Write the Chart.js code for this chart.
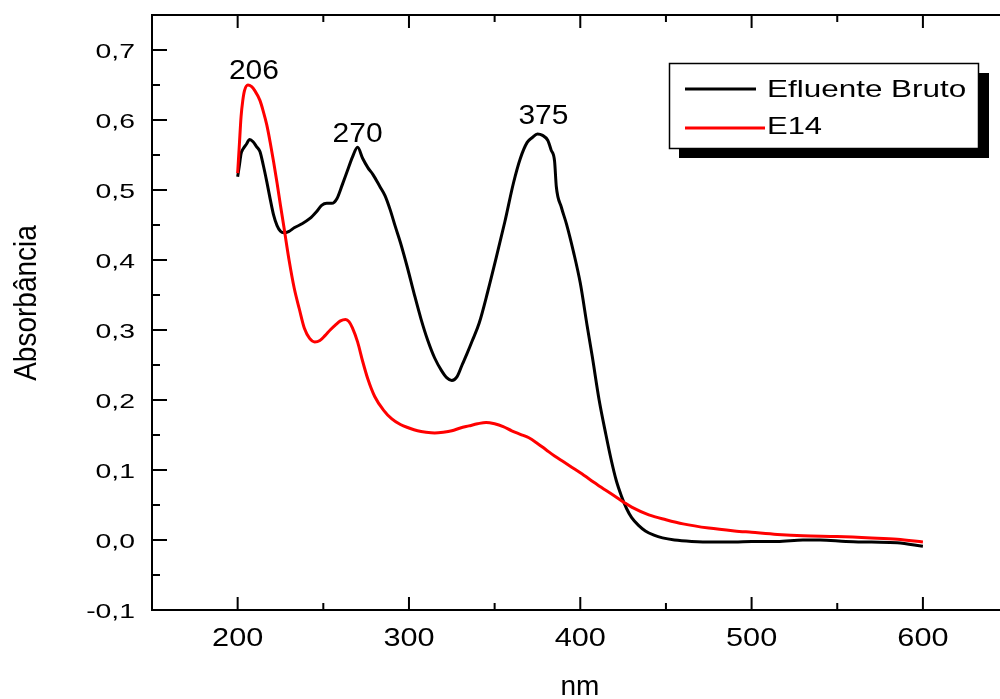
<!DOCTYPE html>
<html>
<head>
<meta charset="utf-8">
<script src="https://cdn.jsdelivr.net/npm/chart.js@4"></script>
<style>
  html, body { margin: 0; padding: 0; background: #fff; }
  #spectra { display: block; }
</style>
</head>
<body>
<canvas id="spectra" width="1000" height="699"></canvas>
<script>
// Efluente Bruto (black)
const brutoNm = [200, 201, 202, 203, 205, 207, 209, 211, 213, 215, 217, 219, 221, 223, 225, 227, 230, 233, 237, 242,
  246, 249, 252, 255, 258, 261, 264, 267, 270, 273, 276, 279, 283, 286, 289, 292, 295, 299, 303, 307,
  311, 315, 319, 322, 325, 328, 331, 334, 337, 341, 346, 351, 356, 361, 365, 369, 372, 375, 378, 381,
  383, 385, 386, 389, 392, 396, 400, 404, 407, 411, 415, 418, 421, 424, 427, 430, 434, 438, 443, 448,
  455, 465, 477, 490, 500, 515, 530, 540, 555, 570, 585, 600];
const brutoAbs = [0.519, 0.535, 0.552, 0.558, 0.565, 0.572, 0.569, 0.562, 0.555, 0.535, 0.512, 0.487, 0.464, 0.449, 0.441, 0.439, 0.441, 0.446, 0.451, 0.459,
  0.469, 0.478, 0.481, 0.481, 0.488, 0.507, 0.527, 0.547, 0.561, 0.545, 0.532, 0.522, 0.505, 0.492, 0.472, 0.448, 0.425, 0.39, 0.352, 0.316,
  0.285, 0.26, 0.242, 0.232, 0.228, 0.233, 0.25, 0.267, 0.285, 0.31, 0.355, 0.404, 0.455, 0.51, 0.545, 0.568, 0.575, 0.58, 0.578, 0.571,
  0.557, 0.541, 0.505, 0.475, 0.451, 0.412, 0.367, 0.306, 0.262, 0.2, 0.15, 0.115, 0.085, 0.063, 0.045, 0.032, 0.021, 0.013, 0.007, 0.003,
  0.0, -0.002, -0.003, -0.003, -0.002, -0.002, 0.0, 0.0, -0.002, -0.003, -0.004, -0.009];

// E14 (red)
const e14Nm = [200, 201, 202, 203, 204, 206, 208, 210, 213, 215, 217, 219, 221, 223, 225, 227, 230, 233, 236, 239,
  242, 245, 248, 251, 254, 257, 260, 263, 265, 267, 270, 273, 276, 280, 285, 290, 295, 300, 305, 310,
  315, 320, 325, 330, 335, 340, 345, 350, 355, 360, 365, 370, 375, 380, 385, 390, 395, 400, 410, 420,
  426, 430, 440, 450, 460, 475, 490, 500, 515, 530, 550, 570, 585, 600];
const e14Abs = [0.524, 0.565, 0.605, 0.628, 0.642, 0.65, 0.648, 0.642, 0.628, 0.612, 0.593, 0.568, 0.54, 0.51, 0.478, 0.447, 0.4, 0.36, 0.33, 0.302,
  0.288, 0.283, 0.285, 0.292, 0.3, 0.307, 0.313, 0.315, 0.312, 0.303, 0.283, 0.255, 0.23, 0.205, 0.186, 0.173, 0.165, 0.16, 0.156, 0.154,
  0.153, 0.154, 0.156, 0.16, 0.163, 0.166, 0.168, 0.166, 0.162, 0.156, 0.151, 0.146, 0.138, 0.129, 0.12, 0.112, 0.104, 0.096, 0.079, 0.063,
  0.053, 0.047, 0.036, 0.029, 0.023, 0.017, 0.013, 0.011, 0.008, 0.006, 0.005, 0.003, 0.001, -0.003];

const xTicks = [200, 300, 400, 500, 600];
const xMinor = [250, 350, 450, 550];
const yTicks = [-0.1, 0, 0.1, 0.2, 0.3, 0.4, 0.5, 0.6, 0.7];
const yMinor = [-0.05, 0.05, 0.15, 0.25, 0.35, 0.45, 0.55, 0.65];

const peakLabels = ['206', '270', '375'];
const peakLabelX = [209.5, 270, 378.5];
const peakLabelY = [0.658, 0.569, 0.594];

const FONT = "'Liberation Sans', Arial, sans-serif";

function toPoints(xs, ys) {
  return xs.map((x, i) => ({ x: x, y: ys[i] }));
}

// text drawn a bit wider than normal, the original export is stretched sideways
function wideText(ctx, txt, x, y, size, sx, align) {
  ctx.save();
  ctx.translate(x, y);
  ctx.scale(sx, 1);
  ctx.font = size + 'px ' + FONT;
  ctx.textAlign = align || 'center';
  ctx.textBaseline = 'alphabetic';
  ctx.fillStyle = '#000';
  ctx.fillText(txt, 0, 0);
  ctx.restore();
}

const originFrame = {
  id: 'originFrame',
  afterDraw(chart) {
    const ctx = chart.ctx;
    const { left, right, top, bottom } = chart.chartArea;
    const xs = chart.scales.x, ys = chart.scales.y;

    ctx.save();
    ctx.strokeStyle = '#000';
    ctx.lineWidth = 2;
    ctx.beginPath();
    ctx.moveTo(left, top); ctx.lineTo(right, top);
    ctx.moveTo(left, top - 1); ctx.lineTo(left, bottom + 1);
    ctx.moveTo(left - 1, bottom); ctx.lineTo(right, bottom);

    // ticks point inward
    xTicks.forEach(v => {
      const px = xs.getPixelForValue(v);
      ctx.moveTo(px, bottom); ctx.lineTo(px, bottom - 13);
      ctx.moveTo(px, top); ctx.lineTo(px, top + 13);
    });
    xMinor.forEach(v => {
      const px = xs.getPixelForValue(v);
      ctx.moveTo(px, bottom); ctx.lineTo(px, bottom - 7);
      ctx.moveTo(px, top); ctx.lineTo(px, top + 7);
    });
    yTicks.forEach(v => {
      const py = ys.getPixelForValue(v);
      ctx.moveTo(left, py); ctx.lineTo(left + 15, py);
    });
    yMinor.forEach(v => {
      const py = ys.getPixelForValue(v);
      ctx.moveTo(left, py); ctx.lineTo(left + 8, py);
    });
    ctx.stroke();
    ctx.restore();

    // tick labels
    xTicks.forEach(v => {
      wideText(ctx, String(v), xs.getPixelForValue(v), 646, 26, 1.18, 'center');
    });
    yTicks.forEach(v => {
      wideText(ctx, v.toFixed(1).replace('.', ','), 135, ys.getPixelForValue(v) + 7.5, 21, 1.35, 'right');
    });

    // axis titles
    wideText(ctx, 'nm', 580, 695, 28, 1.0, 'center');
    ctx.save();
    ctx.translate(36, 303);
    ctx.rotate(-Math.PI / 2);
    ctx.scale(1, 1.12);
    ctx.font = '28px ' + FONT;
    ctx.textAlign = 'center';
    ctx.textBaseline = 'alphabetic';
    ctx.fillStyle = '#000';
    ctx.fillText('Absorbância', 0, 0);
    ctx.restore();

    // peak labels
    peakLabels.forEach((t, i) => {
      wideText(ctx, t, xs.getPixelForValue(peakLabelX[i]), ys.getPixelForValue(peakLabelY[i]), 27, 1.11, 'center');
    });

    // legend box with drop shadow
    ctx.save();
    ctx.fillStyle = '#000';
    ctx.fillRect(679, 73, 310, 85);
    ctx.fillStyle = '#fff';
    ctx.fillRect(669, 63, 310, 86);
    ctx.strokeStyle = '#000';
    ctx.lineWidth = 1.5;
    ctx.strokeRect(669.5, 63.5, 309, 85);
    const ds = chart.data.datasets;
    ctx.lineWidth = 3;
    ctx.strokeStyle = ds[0].borderColor;
    ctx.beginPath(); ctx.moveTo(685, 89); ctx.lineTo(756, 89); ctx.stroke();
    ctx.strokeStyle = ds[1].borderColor;
    ctx.beginPath(); ctx.moveTo(685, 128); ctx.lineTo(765, 128); ctx.stroke();
    ctx.restore();
    wideText(ctx, ds[0].label, 767, 97, 24, 1.31, 'left');
    wideText(ctx, ds[1].label, 767, 134, 24, 1.29, 'left');
  }
};

new Chart(document.getElementById('spectra'), {
  type: 'line',
  data: {
    datasets: [
      {
        label: 'Efluente Bruto',
        data: toPoints(brutoNm, brutoAbs),
        borderColor: '#000000',
        borderWidth: 3,
        pointRadius: 0,
        cubicInterpolationMode: 'monotone',
        order: 1
      },
      {
        label: 'E14',
        data: toPoints(e14Nm, e14Abs),
        borderColor: '#ff0000',
        borderWidth: 3,
        pointRadius: 0,
        cubicInterpolationMode: 'monotone',
        order: 0
      }
    ]
  },
  options: {
    responsive: false,
    animation: false,
    devicePixelRatio: 1,
    layout: { padding: { top: 15, left: 0, right: 0, bottom: 0 } },
    plugins: {
      legend: { display: false },
      tooltip: { enabled: false }
    },
    scales: {
      x: {
        type: 'linear',
        min: 150,
        max: 645,
        grid: { display: false },
        border: { display: false },
        ticks: { display: false },
        afterBuildTicks: s => { s.ticks = xTicks.map(v => ({ value: v })); },
        afterFit: s => { s.height = 89; }
      },
      y: {
        min: -0.1,
        max: 0.75,
        grid: { display: false },
        border: { display: false },
        ticks: { display: false },
        afterBuildTicks: s => { s.ticks = yTicks.map(v => ({ value: v })); },
        afterFit: s => { s.width = 152; }
      }
    }
  },
  plugins: [originFrame]
});
</script>
</body>
</html>
